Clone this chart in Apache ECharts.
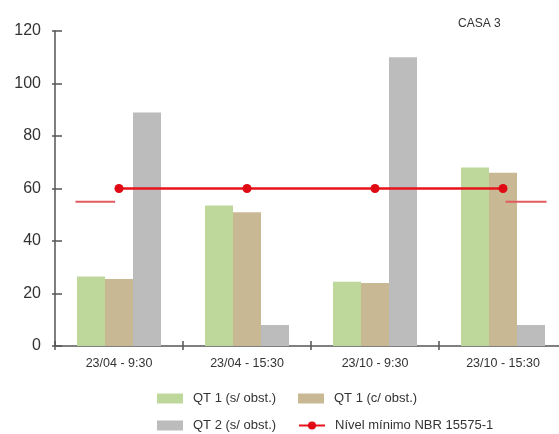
<!DOCTYPE html>
<html>
<head>
<meta charset="utf-8">
<script src="https://cdn.jsdelivr.net/npm/echarts@6/dist/echarts.min.js"></script>
<style>
  html, body { margin: 0; padding: 0; background: #ffffff; }
  #chart { width: 559px; height: 434px; }
</style>
</head>
<body>
<div id="chart"></div>
<script>
// Horários de medição
const categories = ['23/04 - 9:30', '23/04 - 15:30', '23/10 - 9:30', '23/10 - 15:30'];

// Níveis medidos por quarto
const qt1SemObst = [26.5, 53.5, 24.5, 68];
const qt1ComObst = [25.5, 51, 24, 66];
const qt2SemObst = [89, 8, 110, 8];

// Nível mínimo exigido pela NBR 15575-1
const nivelMinimo = [60, 60, 60, 60];

// Trechos de referência curtos nas extremidades (posição em unidades de categoria)
const trechoEsquerdo = [[0.16, 55], [0.47, 55]];
const trechoDireito = [[3.52, 55], [3.84, 55]];

// Escala do eixo vertical
const yMin = 0, yMax = 120, yStep = 20;

const font = 'Liberation Sans, Arial, sans-serif';
const axisColor = '#555555';
const textColor = '#333333';

const chart = echarts.init(document.getElementById('chart'), null, { renderer: 'canvas' });

function legendItem(name, left, top, icon) {
  const item = { name: name };
  if (icon) item.icon = icon;
  return {
    data: [item],
    left: left,
    top: top,
    itemWidth: 26,
    itemHeight: 10,
    selectedMode: false,
    textStyle: { fontFamily: font, fontSize: 13, color: textColor, padding: [0, 0, 0, 5] }
  };
}

chart.setOption({
  animation: false,
  backgroundColor: '#ffffff',
  title: {
    text: 'CASA 3',
    left: 453,
    top: 13,
    textStyle: { fontFamily: font, fontSize: 12, fontWeight: 'normal', color: textColor }
  },
  legend: [
    legendItem('QT 1 (s/ obst.)', 152, 387, 'rect'),
    legendItem('QT 1 (c/ obst.)', 293, 387, 'rect'),
    legendItem('QT 2 (s/ obst.)', 152, 414, 'rect'),
    legendItem('Nível mínimo NBR 15575-1', 293, 414)
  ],
  // the plot area runs slightly past the right edge of the canvas
  grid: { left: 55, width: 512, top: 31, bottom: 88, containLabel: false, outerBoundsMode: 'none' },
  xAxis: [
    {
      type: 'category',
      data: categories,
      boundaryGap: true,
      axisLine: { lineStyle: { color: axisColor, width: 1.5 } },
      axisTick: { show: true, inside: true, length: 5, lineStyle: { color: axisColor, width: 1.5 } },
      axisLabel: { fontFamily: font, fontSize: 12.5, color: textColor, margin: 11 },
      splitLine: { show: false }
    },
    {
      type: 'category',
      data: categories,
      position: 'bottom',
      boundaryGap: true,
      axisLine: { show: false },
      axisTick: { show: true, inside: false, length: 4, lineStyle: { color: axisColor, width: 1.5 } },
      axisLabel: { show: false },
      splitLine: { show: false }
    },
    {
      type: 'value',
      min: 0,
      max: categories.length,
      show: false
    }
  ],
  yAxis: [
    {
      type: 'value',
      min: yMin,
      max: yMax,
      interval: yStep,
      axisLine: { show: true, lineStyle: { color: axisColor, width: 1.5 } },
      axisTick: { show: true, inside: true, length: 7, lineStyle: { color: axisColor, width: 1.5 } },
      axisLabel: { fontFamily: font, fontSize: 16, color: textColor, margin: 14 },
      splitLine: { show: false }
    },
    {
      type: 'value',
      position: 'left',
      min: yMin,
      max: yMax,
      interval: yStep,
      axisLine: { show: false },
      axisTick: { show: true, inside: false, length: 3, lineStyle: { color: axisColor, width: 1.5 } },
      axisLabel: { show: false },
      splitLine: { show: false }
    }
  ],
  series: [
    {
      name: 'QT 1 (s/ obst.)',
      type: 'bar',
      data: qt1SemObst,
      barWidth: 28,
      barGap: '0%',
      itemStyle: { color: '#bed89c' }
    },
    {
      name: 'QT 1 (c/ obst.)',
      type: 'bar',
      data: qt1ComObst,
      barWidth: 28,
      barGap: '0%',
      itemStyle: { color: '#c8b994' }
    },
    {
      name: 'QT 2 (s/ obst.)',
      type: 'bar',
      data: qt2SemObst,
      barWidth: 28,
      barGap: '0%',
      itemStyle: { color: '#bcbcbc' }
    },
    {
      name: 'Nível mínimo NBR 15575-1',
      type: 'line',
      data: nivelMinimo,
      symbol: 'circle',
      symbolSize: 9,
      z: 5,
      lineStyle: { color: '#e8141c', width: 2.5 },
      itemStyle: { color: '#e00a14' }
    },
    {
      name: 'Referência esquerda',
      type: 'line',
      xAxisIndex: 2,
      data: trechoEsquerdo,
      symbol: 'none',
      z: 4,
      lineStyle: { color: '#e25a5e', width: 2 }
    },
    {
      name: 'Referência direita',
      type: 'line',
      xAxisIndex: 2,
      data: trechoDireito,
      symbol: 'none',
      z: 4,
      lineStyle: { color: '#e25a5e', width: 2 }
    }
  ]
});
</script>
</body>
</html>
